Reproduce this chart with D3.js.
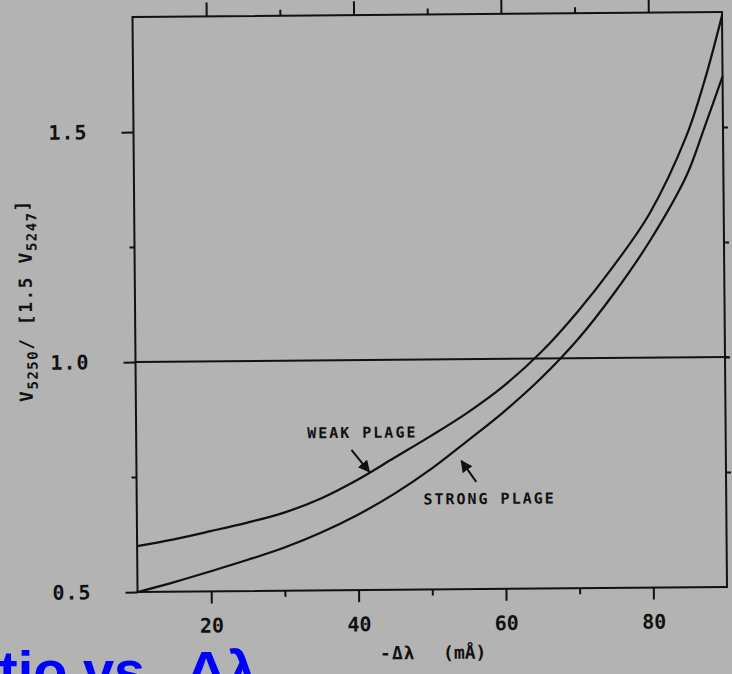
<!DOCTYPE html>
<html>
<head>
<meta charset="utf-8">
<script src="https://cdn.jsdelivr.net/npm/d3@7"></script>
<style>
  html, body { margin: 0; padding: 0; background: #b3b3b3; }
  svg { display: block; }
  .mono { font-family: "DejaVu Sans Mono", "Liberation Mono", monospace; fill: #111; font-weight: bold; }
</style>
</head>
<body>
<svg id="chart" width="732" height="674"></svg>
<script>
// -Δλ (mÅ) sample points and the line ratio for the two plage models
const deltaLambda = [10, 15, 20, 25, 30, 35, 40, 45, 50, 55, 60, 65, 70, 75, 80, 85, 87.5, 90];
const weakPlage   = [0.600, 0.614, 0.631, 0.649, 0.670, 0.700, 0.740, 0.787, 0.834, 0.884, 0.942, 1.013, 1.100, 1.200, 1.315, 1.480, 1.598, 1.742];
const strongPlage = [0.500, 0.521, 0.544, 0.568, 0.594, 0.626, 0.664, 0.709, 0.762, 0.823, 0.886, 0.957, 1.040, 1.140, 1.255, 1.395, 1.500, 1.610];

const xMajorTicks = [20, 40, 60, 80];
const xMinorTicks = [30, 50, 70];
const yMajorTicks = [0.5, 1.0, 1.5];
const yMinorTicks = [0.75, 1.25];
const yTickLabels = ["0.5", "1.0", "1.5"];
const referenceRatio = 1.0;

const svg = d3.select("#chart");

// plot frame (the scanned figure sits slightly rotated)
const g = svg.append("g").attr("transform", "rotate(-0.5, 430, 302)");

const x = d3.scaleLinear().domain([10, 90]).range([135, 724.5]);
const y = d3.scaleLinear().domain([0.5, 1.75]).range([589.5, 14.5]);

const ink = "#111";

// frame
g.append("rect")
  .attr("x", x(10)).attr("y", y(1.75))
  .attr("width", x(90) - x(10)).attr("height", y(0.5) - y(1.75))
  .attr("fill", "none").attr("stroke", ink).attr("stroke-width", 2);

function styleAxis(sel) {
  sel.select(".domain").remove();
  sel.selectAll(".tick line").attr("stroke", ink).attr("stroke-width", 2);
}

// bottom axis
g.append("g").attr("transform", `translate(0,${y(0.5)})`)
  .call(d3.axisBottom(x).tickValues(xMajorTicks).tickSize(12).tickPadding(15).tickFormat(d3.format("d")))
  .call(styleAxis)
  .call(s => s.selectAll("text").attr("class", "mono").attr("font-size", 20)
    .attr("fill", ink));
g.append("g").attr("transform", `translate(0,${y(0.5)})`)
  .call(d3.axisBottom(x).tickValues(xMinorTicks).tickSize(6).tickFormat(""))
  .call(styleAxis);

// top axis
g.append("g").attr("transform", `translate(0,${y(1.75)})`)
  .call(d3.axisTop(x).tickValues(xMajorTicks).tickSize(14).tickFormat(""))
  .call(styleAxis);
g.append("g").attr("transform", `translate(0,${y(1.75)})`)
  .call(d3.axisTop(x).tickValues(xMinorTicks).tickSize(6).tickFormat(""))
  .call(styleAxis);

// left axis
g.append("g").attr("transform", `translate(${x(10)},0)`)
  .call(d3.axisLeft(y).tickValues(yMajorTicks).tickSize(12).tickPadding(34)
    .tickFormat((d, i) => yTickLabels[i]))
  .call(styleAxis)
  .call(s => s.selectAll("text").attr("class", "mono").attr("font-size", 20)
    .attr("letter-spacing", 1).attr("fill", ink));
g.append("g").attr("transform", `translate(${x(10)},0)`)
  .call(d3.axisLeft(y).tickValues(yMinorTicks).tickSize(5).tickFormat(""))
  .call(styleAxis);

// right axis
g.append("g").attr("transform", `translate(${x(90)},0)`)
  .call(d3.axisRight(y).tickValues(yMajorTicks.concat(yMinorTicks).filter(v => v > 0.5)).tickSize(5).tickFormat(""))
  .call(styleAxis);

// reference line at ratio = 1
g.append("line")
  .attr("x1", x(10)).attr("x2", x(90) + 4)
  .attr("y1", y(referenceRatio)).attr("y2", y(referenceRatio))
  .attr("stroke", ink).attr("stroke-width", 2);

// curves
const line = d3.line().x(d => x(d[0])).y(d => y(d[1])).curve(d3.curveCatmullRom.alpha(0.5));
[weakPlage, strongPlage].forEach(series => {
  g.append("path")
    .datum(deltaLambda.map((d, i) => [d, series[i]]))
    .attr("d", line)
    .attr("fill", "none").attr("stroke", ink).attr("stroke-width", 2.2)
    .attr("stroke-linejoin", "round");
});

// arrow heads
svg.append("defs").append("marker")
  .attr("id", "head").attr("viewBox", "0 0 10 10").attr("refX", 9).attr("refY", 5)
  .attr("markerWidth", 6).attr("markerHeight", 6).attr("orient", "auto")
  .append("path").attr("d", "M0,0 L10,5 L0,10 Z").attr("fill", ink);

// curve annotations
const notes = [
  { text: "WEAK PLAGE",   tx: 33.2, ty: 0.831, ax1: 39.2, ay1: 0.805, ax2: 41.6, ay2: 0.757 },
  { text: "STRONG PLAGE", tx: 48.9, ty: 0.685, ax1: 56.1, ay1: 0.733, ax2: 54.1, ay2: 0.779 }
];
notes.forEach(n => {
  g.append("text").attr("class", "mono")
    .attr("x", x(n.tx)).attr("y", y(n.ty))
    .attr("font-size", 15).attr("letter-spacing", 2)
    .text(n.text);
  g.append("line")
    .attr("x1", x(n.ax1)).attr("y1", y(n.ay1)).attr("x2", x(n.ax2)).attr("y2", y(n.ay2))
    .attr("stroke", ink).attr("stroke-width", 2).attr("marker-end", "url(#head)");
});

// x-axis title
const xt = g.append("text").attr("class", "mono").attr("y", 659).attr("font-size", 18);
xt.append("tspan").attr("x", 377).attr("letter-spacing", 1).text("-Δλ");
xt.append("tspan").attr("x", 440).attr("letter-spacing", 0).text("(mÅ)");

// y-axis title
const yt = g.append("text").attr("class", "mono")
  .attr("transform", "translate(32,297) rotate(-90)")
  .attr("text-anchor", "middle").attr("font-size", 18).attr("letter-spacing", 1.5);
yt.append("tspan").text("V");
yt.append("tspan").attr("dy", 5).attr("font-size", 14).text("5250");
yt.append("tspan").attr("dy", -5).text("/ [1.5 V");
yt.append("tspan").attr("dy", 5).attr("font-size", 14).text("5247");
yt.append("tspan").attr("dy", -8).text("]");

// slide heading running off the bottom edge
const heading = svg.append("text")
  .attr("y", 690)
  .attr("font-family", "'Liberation Sans', Arial, sans-serif")
  .attr("font-weight", "bold").attr("font-size", 56).attr("fill", "#0000ff");
heading.append("tspan").attr("x", -1).text("tio vs.");
heading.append("tspan").attr("x", 186).text("Δλ");
</script>
</body>
</html>
